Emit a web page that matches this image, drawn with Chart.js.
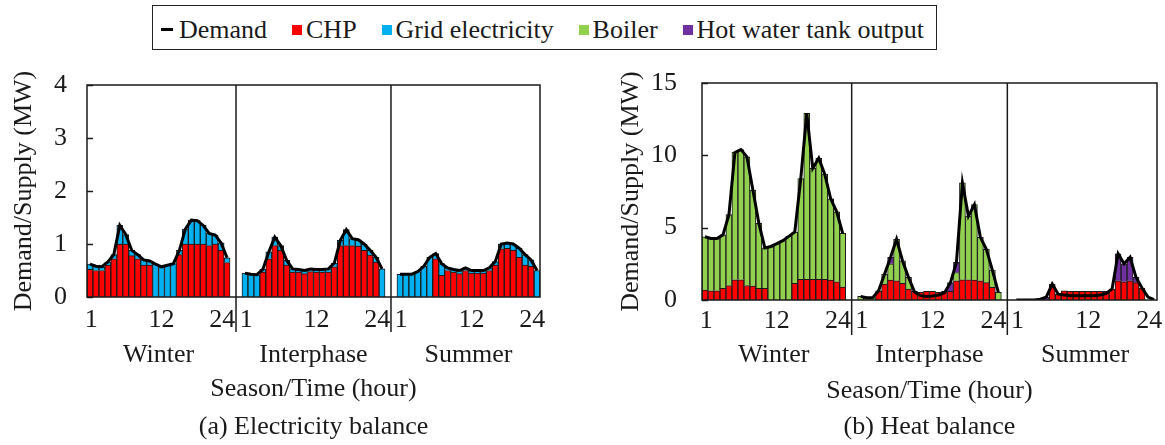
<!DOCTYPE html>
<html>
<head>
<meta charset="utf-8">
<script src="https://cdn.jsdelivr.net/npm/chart.js@4.4.1/dist/chart.umd.min.js"></script>
<style>
  body { margin: 0; width: 1165px; height: 445px; background: #fff; position: relative; overflow: hidden;
         font-family: 'Liberation Serif', 'Times New Roman', serif; color: #1a1a1a; }
  #legend { position: absolute; left: 152px; top: 5px; width: 785px; height: 45px; box-sizing: border-box;
            border: 1.5px solid #222; display: flex; align-items: center; justify-content: space-between;
            padding: 4px 12px 0 8px; font-size: 26px; white-space: nowrap; }
  #legend span.item { display: flex; align-items: center; }
  #legend i { display: inline-block; width: 10px; height: 10px; margin-right: 4px; }
  #legend i.dash { width: 12px; height: 3px; margin-right: 6px; background: #000; }
  canvas { position: absolute; top: 55px; }
  #elec { left: 0; }
  #heat { left: 600px; }
</style>
</head>
<body>
<div id="legend"></div>
<canvas id="elec" width="580" height="390"></canvas>
<canvas id="heat" width="565" height="390"></canvas>
<script>
// categories
const seasons = ['Winter', 'Interphase', 'Summer'];
const hours = ['1','2','3','4','5','6','7','8','9','10','11','12',
               '13','14','15','16','17','18','19','20','21','22','23','24'];
const hourTicks = ['1', '12', '24'];

// (a) electricity balance, MW  (winter | interphase | summer)
const elecChp = [
  0.52,0.50,0.50,0.60,0.72,1.00,1.00,0.78,0.72,0.60,0.60,0,0,0,0,0.80,1.00,1.00,1.00,1.00,0.97,1.00,0.88,0.65,
  0,0,0,0.47,0.72,0.97,0.88,0.60,0.47,0.47,0.44,0.48,0.47,0.47,0.47,0.57,0.97,0.97,0.97,0.96,0.88,0.79,0.66,0,
  0,0,0,0,0,0,0.72,0.41,0.50,0.47,0.44,0.50,0.45,0.45,0.45,0.50,0.60,0.91,0.92,0.88,0.75,0.60,0.58,0
];
const elecGrid = [
  0.10,0.08,0.07,0.06,0.08,0.35,0.18,0.10,0.08,0.10,0.08,0.62,0.57,0.60,0.63,0.08,0.28,0.45,0.44,0.35,0.23,0.17,0.14,0.09,
  0.45,0.43,0.42,0.05,0.13,0.16,0.09,0.09,0.06,0.05,0.06,0.05,0.05,0.05,0.06,0.07,0.10,0.30,0.13,0.12,0.12,0.09,0.09,0.53,
  0.43,0.43,0.43,0.48,0.58,0.75,0.10,0.22,0.05,0.05,0.06,0.05,0.05,0.05,0.05,0.05,0.07,0.09,0.10,0.12,0.17,0.20,0.12,0.50
];
const elecDemand = [
  0.62,0.58,0.57,0.66,0.80,1.35,1.18,0.88,0.80,0.70,0.68,0.62,0.57,0.60,0.63,0.88,1.28,1.45,1.44,1.35,1.20,1.17,1.02,0.74,
  0.45,0.43,0.42,0.52,0.85,1.13,0.97,0.69,0.53,0.52,0.50,0.53,0.52,0.52,0.53,0.64,1.07,1.27,1.10,1.08,1.00,0.88,0.75,0.53,
  0.43,0.43,0.43,0.48,0.58,0.75,0.82,0.63,0.55,0.52,0.50,0.55,0.50,0.50,0.50,0.55,0.67,1.00,1.02,1.00,0.92,0.80,0.70,0.50
];

// (b) heat balance, MW
const heatChp = [
  0.69,0.64,0.64,0.80,1.00,1.40,1.40,1.00,0.97,0.80,0.80,0,0,0,0,1.15,1.43,1.43,1.43,1.43,1.43,1.38,1.26,0.90,
  0,0,0,0.60,1.10,1.38,1.33,1.15,0.76,0.60,0.53,0.60,0.60,0.53,0.60,0.60,1.33,1.40,1.40,1.38,1.33,1.20,0.87,0,
  0,0,0,0,0,0,1.10,0.40,0.64,0.60,0.60,0.60,0.60,0.60,0.60,0.60,0.76,1.33,1.26,1.33,1.20,0.83,0,0
];
const heatBoiler = [
  3.68,3.61,3.61,3.70,4.90,8.80,9.00,8.90,6.63,4.50,2.80,3.70,3.90,4.10,4.40,3.55,6.97,11.47,7.67,8.37,7.27,5.62,4.84,3.70,
  0.25,0.16,0.16,0.04,0.70,1.12,2.87,1.55,0.80,0,0,0,0,0,0,0,0.57,6.70,4.40,5.22,3.00,2.30,1.20,0.53,
  0,0,0,0,0,0,0,0,0,0,0,0,0,0,0,0,0,0,0,0,0,0,0,0
];
const heatTank = [
  0,0,0,0,0,0,0,0,0,0,0,0,0,0,0,0,0,0,0,0,0,0,0,0,
  0,0,0,0,0,0.45,0,0,0,0,0,0,0,0,0,0.60,0.70,0,0,0,0,0,0,0,
  0,0,0,0,0,0.20,0,0,0,0,0,0,0,0,0,0,0,1.87,1.24,1.62,0.36,0,0,0
];
const heatDemand = [
  4.37,4.25,4.25,4.50,5.90,10.20,10.40,9.90,7.60,5.30,3.60,3.70,3.90,4.10,4.40,4.70,8.40,12.90,9.10,9.80,8.70,7.00,6.10,4.60,
  0.25,0.16,0.16,0.64,1.80,2.95,4.20,2.70,1.56,0.55,0.30,0.25,0.28,0.35,0.50,1.20,2.60,8.10,5.80,6.60,4.33,3.50,2.07,0.53,
  0,0,0,0,0.05,0.20,1.10,0.40,0.35,0.30,0.30,0.30,0.30,0.30,0.35,0.45,0.76,3.20,2.50,2.95,1.56,0.83,0.20,0.03
];

const colors = {
  'Demand': '#000000',
  'CHP': '#ff0000',
  'Grid electricity': '#00b0f0',
  'Boiler': '#92d050',
  'Hot water tank output': '#7030a0'
};

const GAP = 2; // empty slots between seasons
const SLOTS = hours.length + GAP;
const labels = [];
seasons.forEach((s, k) => {
  if (k > 0) for (let g = 0; g < GAP; g++) labels.push('');
  labels.push(...hours);
});
const seasonCenters = seasons.map((s, k) => k * SLOTS + (hours.length - 1) / 2);
// the hour labels sit a little off the bar centres, as in the original
const tickNudge = { '1': 0.2, '12': 1.0, '24': -0.8 };
const hourTickList = [];
seasons.forEach((s, k) => hourTicks.forEach(h => {
  hourTickList.push({ value: k * SLOTS + hours.indexOf(h) + tickNudge[h], label: h });
}));

// put null slots between the seasons
function withGaps(values) {
  const out = [];
  values.forEach((v, i) => {
    if (i > 0 && i % hours.length === 0) for (let g = 0; g < GAP; g++) out.push(null);
    out.push(v);
  });
  return out;
}

function barSet(name, values) {
  return {
    type: 'bar', label: name, data: withGaps(values), order: 1,
    backgroundColor: colors[name], borderColor: '#1a1a1a', borderWidth: 1,
    barPercentage: 1, categoryPercentage: 1
  };
}
function lineSet(values) {
  return {
    type: 'line', label: 'Demand', data: withGaps(values), order: 0, stack: 'demand',
    borderColor: '#000', borderWidth: 3, pointRadius: 0, tension: 0, spanGaps: false
  };
}

// frame box, inner y ticks, season separators
const framePlugin = {
  id: 'frame',
  afterDraw(chart) {
    const { ctx, chartArea: a, scales } = chart;
    ctx.save();
    ctx.strokeStyle = '#1a1a1a';
    ctx.lineWidth = 1.5;
    ctx.strokeRect(a.left, a.top, a.right - a.left, a.bottom - a.top);
    scales.y.ticks.forEach(t => {
      const y = Math.round(scales.y.getPixelForValue(t.value)) + 0.5;
      ctx.beginPath(); ctx.moveTo(a.left, y); ctx.lineTo(a.left + 6, y); ctx.stroke();
    });
    for (let k = 1; k < seasons.length; k++) {
      const i = k * SLOTS - GAP;
      const x = (scales.x.getPixelForValue(i) + scales.x.getPixelForValue(i + 1)) / 2;
      ctx.beginPath(); ctx.moveTo(x, a.top); ctx.lineTo(x, a.bottom + 35); ctx.stroke();
    }
    ctx.restore();
  }
};

Chart.defaults.font.family = "'Liberation Serif', 'Times New Roman', serif";
Chart.defaults.font.size = 26;
Chart.defaults.color = '#1a1a1a';

function makeChart(id, cfg) {
  const noPad = s => { s.paddingLeft = 0; s.paddingRight = 0; };
  return new Chart(document.getElementById(id), {
    type: 'bar',
    data: { labels, datasets: cfg.datasets },
    options: {
      responsive: false,
      animation: false,
      layout: { padding: cfg.padding },
      plugins: {
        legend: { display: false },
        tooltip: { enabled: false },
        title: { display: true, position: 'bottom', fullSize: false, text: cfg.caption,
                 font: { weight: 'normal' }, padding: { top: 4, bottom: 2 } }
      },
      scales: {
        x: {
          stacked: true, weight: 0,
          grid: { display: false }, border: { display: false }, ticks: { display: false },
          afterFit(s) { s.height = 0; noPad(s); }
        },
        hour: {
          type: 'linear', position: 'bottom', weight: 1, offset: false,
          min: -0.5, max: labels.length - 0.5,
          grid: { display: false }, border: { display: false },
          afterBuildTicks(axis) { axis.ticks = hourTickList.map(t => ({ value: t.value })); },
          ticks: { padding: cfg.tickPad, maxRotation: 0, autoSkip: false, callback: (v, i) => hourTickList[i].label },
          afterFit(s) { s.height = 32; noPad(s); }
        },
        season: {
          type: 'linear', position: 'bottom', weight: 2, offset: false,
          min: -0.5, max: labels.length - 0.5,
          grid: { display: false }, border: { display: false },
          afterBuildTicks(axis) { axis.ticks = seasonCenters.map(v => ({ value: v })); },
          ticks: { padding: cfg.seasonPad, maxRotation: 0, autoSkip: false, callback: (v, i) => seasons[i] },
          title: { display: true, text: 'Season/Time (hour)', padding: { top: 0, bottom: cfg.titlePad } },
          afterFit(s) { s.height = cfg.seasonHeight; noPad(s); }
        },
        y: {
          stacked: true, min: 0, max: cfg.yMax,
          grid: { display: false }, border: { display: false },
          ticks: { stepSize: cfg.yStep, padding: cfg.yTickPad },
          title: { display: true, text: 'Demand/Supply (MW)', padding: { top: cfg.yTitlePad, bottom: 0 } },
          afterFit(s) { s.width = cfg.yWidth; s.paddingTop = 0; s.paddingBottom = 0; }
        }
      }
    },
    plugins: [framePlugin]
  });
}

makeChart('elec', {
  caption: '(a) Electricity balance',
  datasets: [barSet('CHP', elecChp), barSet('Grid electricity', elecGrid), lineSet(elecDemand)],
  padding: { top: 30, right: 40, left: 0, bottom: 0 },
  yMax: 4, yStep: 1, yWidth: 87, yTickPad: 12, yTitlePad: 9,
  tickPad: 0, seasonPad: 3, seasonHeight: 78.8, titlePad: 3
});

makeChart('heat', {
  caption: '(b) Heat balance',
  datasets: [barSet('CHP', heatChp), barSet('Boiler', heatBoiler),
             barSet('Hot water tank output', heatTank), lineSet(heatDemand)],
  padding: { top: 28, right: 8, left: 0, bottom: 0 },
  yMax: 15, yStep: 5, yWidth: 102, yTickPad: 17, yTitlePad: 16,
  tickPad: -2, seasonPad: 0, seasonHeight: 75.8, titlePad: 1
});

// shared legend for both panels
const legend = document.getElementById('legend');
Object.keys(colors).forEach(name => {
  const item = document.createElement('span');
  item.className = 'item';
  const sym = document.createElement('i');
  if (name === 'Demand') sym.className = 'dash';
  else sym.style.background = colors[name];
  item.appendChild(sym);
  item.appendChild(document.createTextNode(name));
  legend.appendChild(item);
});
</script>
</body>
</html>
